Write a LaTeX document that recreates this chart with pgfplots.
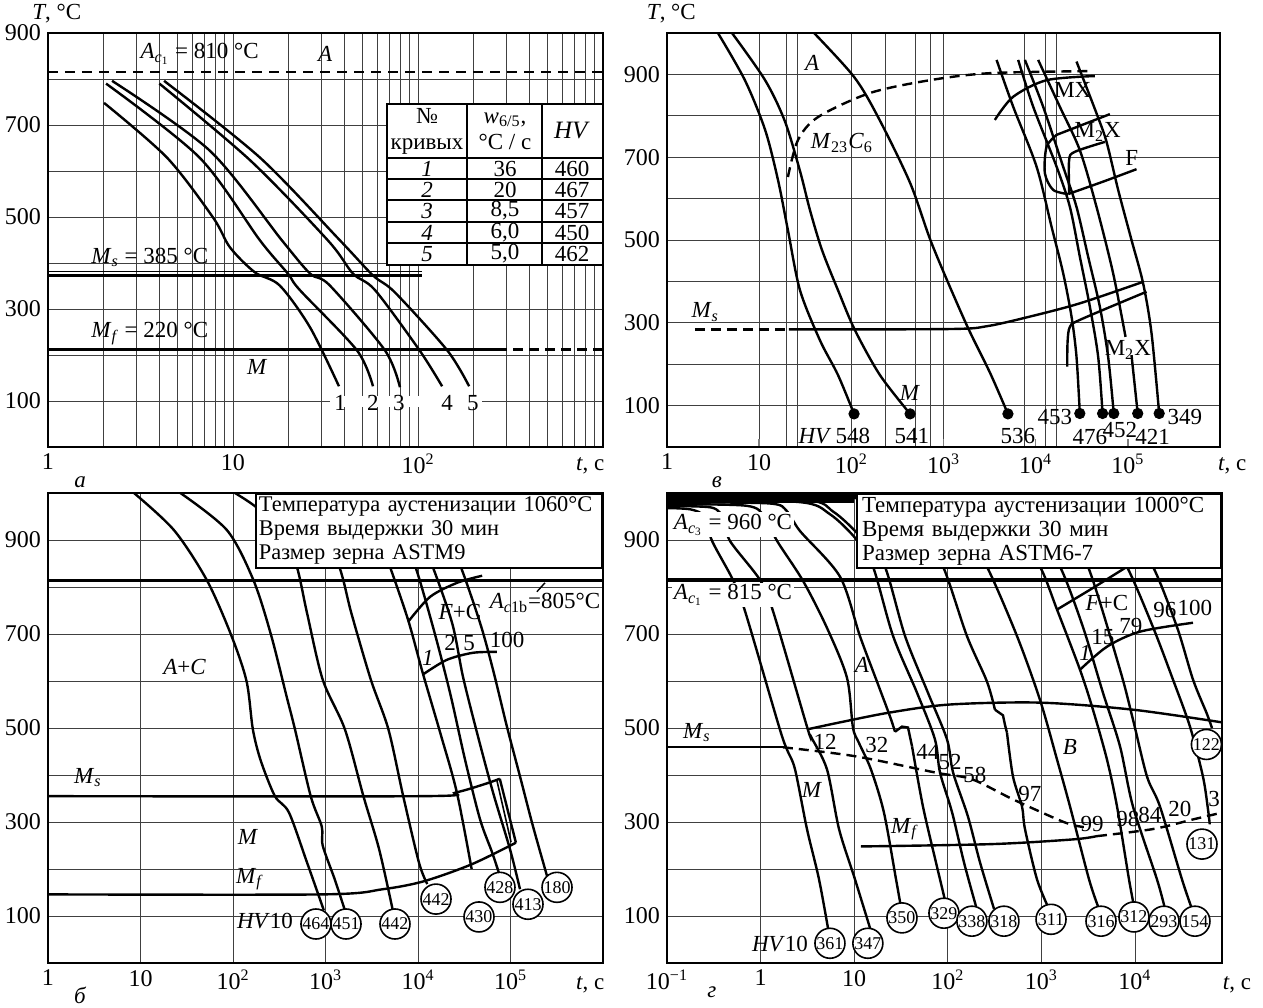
\documentclass[border=0pt]{standalone}
\usepackage{fontspec}
\setmainfont{Liberation Serif}
\usepackage{pgfplots}
\pgfplotsset{compat=1.18}

\newcommand{\sbs}[1]{\textsubscript{#1}}
\newcommand{\Ms}{\textit{M}\sbs{\textit{s}}}
\newcommand{\Mf}{\textit{M}\sbs{\textit{f}}}
\newcommand{\lbl}{\fontsize{11.5}{13}\selectfont}
\newcommand{\tkl}{\fontsize{12}{13}\selectfont}

\tikzset{
  circ/.style={draw, circle, line width=0.8pt, inner sep=0pt, minimum size=15pt, fill=white, font=\fontsize{9}{10}\selectfont},
  dsh/.style={dash pattern=on 5pt off 3pt},
  crv/.style={line width=1.2pt, black},
}

\begin{document}
\begin{tikzpicture}
\useasboundingbox (0,0) rectangle (631.5pt,-503.5pt);

%================ PANEL a =================
\begin{axis}[scale only axis, anchor=north west, at={(24pt,-16.5pt)}, width=277.5pt, height=207pt,
  xmode=log, xmin=1, xmax=1000, ymin=0, ymax=900,
  axis line style={line width=1.1pt},
  grid style={line width=0.45pt, black!75},
  ytick={100,200,300,400,500,600,700,800,900}, yticklabels={100,,300,,500,,700,,900},
  ymajorgrids, ytick style={draw=none}, xtick style={draw=none},
  tick label style={font=\tkl},
  /pgf/number format/assume math mode=true,
  clip mode=individual,
  xtick={1,10,100}, xticklabels={1,10,10\textsuperscript{2}},
  xmajorgrids, xminorgrids,
  minor xtick={2,3,4,5,6,7,8,9,20,30,40,50,60,70,80,90,200,300,400,500,600,700,800,900}]
\addplot[crv, line width=1.3pt, dash pattern=on 5pt off 3.5pt] coordinates {(1,815) (1000,815)};
\addplot[crv, line width=1.3pt] coordinates {(1,373) (105,373)};
\addplot[crv, line width=0.6pt] coordinates {(1,381) (105,381)};
\addplot[crv, line width=1.3pt] coordinates {(1,212) (268,212)};
\addplot[crv, line width=1.3pt, dsh] coordinates {(268,212) (1000,212)};
\addplot[crv, smooth] coordinates {(2.01,748) (4.4,629) (7.8,499) (9.63,434) (13.1,380) (17.9,351) (26.1,260) (37.4,132)};
\addplot[crv, smooth] coordinates {(2.06,790) (6.6,629) (14.0,449) (19.8,377) (23.0,341) (46.8,210) (57.1,132)};
\addplot[crv, smooth] coordinates {(2.22,796) (7.5,644) (18.4,449) (26.1,377) (33.4,351) (66.3,210) (79.9,130)};
\addplot[crv, smooth] coordinates {(4.0,790) (12.4,623) (32.6,449) (44.5,377) (58.6,341) (102,210) (135,132)};
\addplot[crv, smooth] coordinates {(4.24,796) (14,629) (37.9,449) (57.1,373) (75.1,336) (144,210) (189,132)};
\fill[white] (axis cs:33.4,86) rectangle (axis cs:222,110);
\node[font=\lbl] at (axis cs:37.9,96) {1};
\node[font=\lbl] at (axis cs:57.1,96) {2};
\node[font=\lbl] at (axis cs:78.9,96) {3};
\node[font=\lbl] at (axis cs:143.5,96) {4};
\node[font=\lbl] at (axis cs:198,96) {5};
\node[font=\lbl] at (axis cs:6.6,855) {\textit{A}\sbs{\textit{c}\sbs{1}} = 810 °C};
\node[font=\lbl] at (axis cs:31.5,855) {\textit{A}};
\node[font=\lbl] at (axis cs:3.55,412) {\Ms{} = 385 °C};
\node[font=\lbl] at (axis cs:3.55,247) {\Mf{} = 220 °C};
\node[font=\lbl] at (axis cs:13.5,174) {\textit{M}};
\node[font=\lbl, anchor=west] at (axis description cs:-0.041,1.046) {\textit{T}, °C};
\node[font=\lbl] at (axis description cs:0.977,-0.045) {\textit{t}, с};
\node[font=\lbl] at (axis description cs:0.058,-0.085) {\textit{а}};
\end{axis}

%================ PANEL в =================
\begin{axis}[scale only axis, anchor=north west, at={(333.5pt,-16.5pt)}, width=276.5pt, height=207pt,
  xmode=log, xmin=1, xmax=1000000, ymin=0, ymax=1000,
  axis line style={line width=1.1pt},
  grid style={line width=0.45pt, black!75},
  ytick={100,200,300,400,500,600,700,800,900}, yticklabels={100,,300,,500,,700,,900},
  ymajorgrids, ytick style={draw=none},
  tick label style={font=\tkl},
  /pgf/number format/assume math mode=true,
  clip mode=individual,
  xtick={1,10,100,1000,10000,100000},
  xticklabels={1,10,10\textsuperscript{2},10\textsuperscript{3},10\textsuperscript{4},10\textsuperscript{5}},
  minor xtick={10,20,26,100,237,500,727,1000,7600,12900,17000}, xminorgrids,
  xtick pos=bottom, xtick style={line width=0.8pt}, major tick length=4pt, minor tick length=0pt, tick align=inside]
\addplot[crv, smooth] coordinates {(3.57,1000) (7.0,886) (11.6,766) (16.0,645) (20.5,524) (27.7,379) (45.6,258) (71.6,174) (107,80)};
\addplot[crv, smooth] coordinates {(5.07,1000) (11.6,886) (19.0,787) (27.7,667) (35.6,572) (48.0,476) (71.6,379) (109,283) (204,174) (434,80)};
\addplot[crv, smooth] coordinates {(39.4,1000) (107,894) (195,797) (434,638) (750,490) (1740,300) (3200,179) (5000,80)};
\addplot[crv, smooth, dsh] coordinates {(20.5,652) (26.3,741) (43.5,797) (159,855) (712,886) (3200,903) (40700,908)};
\addplot[crv, smooth] coordinates {(3767,935) (5702,822) (10230,677) (14870,532) (19870,420) (24490,315) (27730,218) (30130,81)};
\addplot[crv, smooth] coordinates {(6457,935) (9397,822) (16870,677) (23500,580) (30130,460) (38730,339) (47640,218) (53210,81)};
\addplot[crv, smooth] coordinates {(7640,935) (12050,822) (19870,677) (27730,580) (37070,460) (49660,339) (61100,218) (70400,81)};
\addplot[crv, smooth] coordinates {(10640,935) (18280,822) (30130,717) (45710,580) (69180,420) (94400,266)};
\addplot[crv, smooth] coordinates {(109600,222) (128000,81)};
\addplot[crv, smooth] coordinates {(27730,931) (45710,806) (58750,737) (78520,621) (109600,500) (146600,395) (180700,275) (218800,81)};
\addplot[crv, smooth] coordinates {(23070,613) (23070,693) (26610,713) (56360,737)};
\addplot[crv, smooth] coordinates {(22540,611) (53950,641) (124200,671)};
\addplot[crv, smooth] coordinates {(16870,754) (13120,725) (12590,661) (15490,621) (22540,611)};
\addplot[crv] coordinates {(16870,754) (63830,804)};
\addplot[crv, smooth] coordinates {(3606,790) (5702,846) (13120,886) (43850,896)};
\addplot[crv, dsh] coordinates {(2,284) (21,284)};
\addplot[crv, smooth] coordinates {(21,284) (1200,285) (3000,292) (8650,315) (30130,347) (146600,399)};
\addplot[crv, smooth] coordinates {(21980,194) (22200,255) (23500,290) (30130,307) (159600,375)};
\addplot[only marks, mark=*, mark size=2.6pt, black] coordinates {(107,80) (434,80) (5000,80) (30130,81) (53210,81) (70400,81) (128000,81) (218800,81)};
\node[font=\lbl] at (axis cs:40.3,27) {\textit{HV}};
\node[font=\lbl] at (axis cs:104,27) {548};
\node[font=\lbl] at (axis cs:454,27) {541};
\node[font=\lbl] at (axis cs:6400,27) {536};
\node[font=\lbl] at (axis cs:16150,72) {453};
\node[font=\lbl] at (axis cs:38700,24) {476};
\node[font=\lbl] at (axis cs:81800,41) {452};
\node[font=\lbl] at (axis cs:186000,24) {421};
\node[font=\lbl] at (axis cs:415000,72) {349};
\node[font=\lbl] at (axis cs:432,130) {\textit{M}};
\node[font=\lbl] at (axis cs:37.5,928) {\textit{A}};
\node[font=\lbl] at (axis cs:79,734) {\textit{M}\sbs{23}\textit{C}\sbs{6}};
\node[font=\lbl] at (axis cs:2.6,326) {\Ms};
\node[font=\lbl] at (axis cs:25300,862) {MX};
\node[font=\lbl] at (axis cs:47000,761) {M\sbs{2}X};
\node[font=\lbl] at (axis cs:110000,698) {F};
\node[font=\lbl] at (axis cs:100000,234) {M\sbs{2}X};
\node[font=\lbl, anchor=west] at (axis description cs:-0.049,1.046) {\textit{T}, °C};
\node[font=\lbl] at (axis description cs:1.022,-0.045) {\textit{t}, с};
\node[font=\lbl] at (axis description cs:0.09,-0.085) {\textit{в}};
\end{axis}

%================ PANEL б =================
\begin{axis}[scale only axis, anchor=north west, at={(24pt,-246.5pt)}, width=277.5pt, height=235pt,
  xmode=log, xmin=1, xmax=1000000, ymin=0, ymax=1000,
  axis line style={line width=1.1pt},
  grid style={line width=0.45pt, black!75},
  ytick={100,200,300,400,500,600,700,800,900}, yticklabels={100,,300,,500,,700,,900},
  ymajorgrids, ytick style={draw=none}, xtick style={draw=none},
  tick label style={font=\tkl},
  /pgf/number format/assume math mode=true,
  clip mode=individual,
  xtick={1,10,100,1000,10000,100000},
  xticklabels={1,10,10\textsuperscript{2},10\textsuperscript{3},10\textsuperscript{4},10\textsuperscript{5}},
  xmajorgrids]
\addplot[crv, line width=1.6pt] coordinates {(1,813) (1000000,813)};
\addplot[crv, smooth] coordinates {(8.5,1000) (23,921) (52,815) (95,699) (140,600) (164,497) (200,430) (284,355) (403,320) (631,214) (960,112)};
\addplot[crv, smooth] coordinates {(27,1000) (86,921) (166,815) (257,699) (380,567) (468,497) (692,355) (912,290) (933,250) (1259,178) (1622,112)};
\addplot[crv, smooth] coordinates {(105,1000) (204,960) (363,890) (490,843) (631,745) (933,603) (1622,497) (2570,355) (3800,242) (5370,110)};
\addplot[crv, smooth] coordinates {(776,960) (1410,843) (1900,745) (3090,603) (4790,497) (6920,355) (10230,214) (12590,168)};
\addplot[crv, smooth] coordinates {(3020,960) (4680,858) (7760,732) (11220,618) (17380,490) (26300,363) (38000,200)};
\addplot[crv, smooth] coordinates {(5000,960) (8830,858) (14520,715) (22190,575) (32220,433) (46800,306) (63100,236) (76900,185)};
\addplot[crv, smooth] coordinates {(8000,960) (13490,858) (23330,724) (30650,609) (43450,490) (64700,363) (98800,242) (126700,157)};
\addplot[crv, smooth] coordinates {(15000,960) (27060,858) (46800,724) (64700,624) (91500,503) (126700,397) (175000,291) (254300,178)};
\addplot[crv, smooth] coordinates {(1,355) (11220,355) (25700,363) (51300,380) (76600,392)};
\addplot[crv] coordinates {(76600,392) (114400,256)};
\addplot[crv, line width=0.8pt] coordinates {(70800,391) (101400,257)};
\addplot[crv, smooth] coordinates {(1,146) (933,146) (4170,157) (11610,174) (38000,210) (114400,256)};
\addplot[crv, smooth] coordinates {(7830,726) (13490,779) (26500,809) (49400,824)};
\addplot[crv, smooth] coordinates {(11330,614) (20500,645) (39200,660) (71300,662)};
\addplot[crv, line width=0.7pt] coordinates {(193000,790) (236000,809)};
\node[draw, line width=1pt, fill=white, anchor=north east, align=left, inner xsep=1.5pt, inner ysep=1.5pt, text width=170pt, font=\fontsize{11.2}{12}\selectfont] at (rel axis cs:1,1)
  {\mbox{Температура аустенизации 1060°C}\\Время выдержки 30 мин\\Размер зерна ASTM9};
\node[font=\lbl] at (axis cs:30,630) {\textit{A}+\textit{C}};
\node[font=\lbl] at (axis cs:2.7,395) {\Ms};
\node[font=\lbl] at (axis cs:145,268) {\textit{M}};
\node[font=\lbl] at (axis cs:152,178) {\Mf};
\node[font=\lbl] at (axis cs:222,89) {\textit{HV}10};
\node[font=\lbl] at (axis cs:28400,747) {\textit{F}+C};
\node[font=\lbl] at (axis cs:236000,766) {\textit{A}\sbs{\textit{c}1b}=805°C};
\node[font=\lbl] at (axis cs:12800,650) {\textit{1}};
\node[font=\lbl] at (axis cs:22200,681) {2};
\node[font=\lbl] at (axis cs:35600,681) {5};
\node[font=\lbl] at (axis cs:91700,688) {100};
\node[circ] at (axis cs:789,83) {464};
\node[circ] at (axis cs:1667,83) {451};
\node[circ] at (axis cs:5640,83) {442};
\node[circ] at (axis cs:15660,136) {442};
\node[circ] at (axis cs:45650,98) {430};
\node[circ] at (axis cs:76980,161) {428};
\node[circ] at (axis cs:154600,125) {413};
\node[circ] at (axis cs:318400,161) {180};
\node[font=\lbl] at (axis description cs:0.977,-0.047) {\textit{t}, с};
\node[font=\lbl] at (axis description cs:0.058,-0.068) {\textit{б}};
\end{axis}

%================ PANEL г =================
\begin{axis}[scale only axis, anchor=north west, at={(333.5pt,-246.5pt)}, width=277.5pt, height=235pt,
  xmode=log, xmin=0.1, xmax=85100, ymin=0, ymax=1000,
  axis line style={line width=1.1pt},
  grid style={line width=0.45pt, black!75},
  ytick={100,200,300,400,500,600,700,800,900}, yticklabels={100,,300,,500,,700,,900},
  ymajorgrids, ytick style={draw=none}, xtick style={draw=none},
  tick label style={font=\tkl},
  /pgf/number format/assume math mode=true,
  clip mode=individual,
  xtick={0.1,1,10,100,1000,10000},
  xticklabels={10\textsuperscript{−1},1,10,10\textsuperscript{2},10\textsuperscript{3},10\textsuperscript{4}},
  xmajorgrids]
\addplot[crv, line width=1.6pt] coordinates {(0.1,815) (85100,815)};
\addplot[crv, line width=4pt] coordinates {(0.1,988) (10,988)};
% fast curves
\addplot[crv, smooth] coordinates {(0.1,968) (0.18,965) (0.25,950) (0.303,898) (0.507,815) (0.681,749) (1.574,503) (1.915,454) (2.333,412) (3.13,285) (4.21,178) (5.38,62)};
\addplot[crv, smooth] coordinates {(0.1,972) (0.3,969) (0.4,945) (0.471,898) (0.986,815) (1.356,749) (3.13,503) (3.45,482) (5.12,412) (6.89,285) (10.2,178) (15.1,68)};
\addplot[crv, smooth] coordinates {(0.1,976) (0.7,973) (1.1,950) (1.5,898) (2.84,813) (5.12,713) (8.37,607) (9.7,501) (11.2,469) (15.1,412) (20.8,320) (28,178) (31.6,119)};
% curve to 329 with notch
\addplot[crv, smooth] coordinates {(0.1,980) (1.2,978) (1.9,962) (2.64,919) (7.05,822) (11.5,696) (17.5,599) (24.1,525) (27.3,492)};
\addplot[crv] coordinates {(27.3,492) (32.4,503) (37.6,501) (41.5,461)};
\addplot[crv, smooth] coordinates {(41.5,461) (54.3,333) (74.8,214) (95.7,125)};
% 338, 318
\addplot[crv, smooth] coordinates {(0.1,984) (2.5,981) (5.5,955) (10.7,900) (15.9,843) (26.0,696) (46.9,575) (72.9,476) (82.6,405) (111,321) (149,214) (200,121)};
\addplot[crv, smooth] coordinates {(0.1,988) (3,985) (6,960) (10.7,915) (14,880) (21.3,843) (34.9,696) (61.4,575) (98,476) (114,405) (164,312) (221,214) (312,115)};
% 311 with notch
\addplot[crv, smooth] coordinates {(0.1,991) (9,990) (15,970) (30,920) (60,870) (89,843) (160,696) (262,599) (319,539)};
\addplot[crv] coordinates {(319,539) (389,527) (408,507) (429,490)};
\addplot[crv, smooth] coordinates {(429,490) (497,397) (621,333) (668,285) (898,178) (1205,115)};
% 316, 312, 293, 154, 131, 122
\addplot[crv, smooth] coordinates {(0.1,994) (10,993) (30,975) (100,920) (180,880) (262,843) (548,696) (966,560) (1469,433) (2023,333) (3230,178) (4125,115)};
\addplot[crv, smooth] coordinates {(0.1,995) (10,994) (60,975) (300,920) (600,880) (966,843) (1469,752) (2585,624) (3556,539) (5020,433) (6430,333) (8630,178) (9770,121)};
\addplot[crv, smooth] coordinates {(0.1,996) (10,995) (100,975) (500,920) (1000,880) (1581,843) (2780,715) (4550,575) (6920,461) (9520,333) (17180,178) (20940,115)};
\addplot[crv, smooth] coordinates {(0.1,997) (10,996) (200,975) (1000,920) (2000,880) (3150,843) (6920,624) (9520,518) (13430,397) (18500,333) (31770,178) (40640,115)};
\addplot[crv, smooth] coordinates {(0.1,998) (10,997) (500,975) (3000,920) (5500,880) (8200,843) (15560,715) (25470,603) (38700,503) (53200,397) (60000,330) (63000,295)};
\addplot[crv, smooth] coordinates {(0.1,999) (10,998) (1000,975) (5000,920) (10000,880) (15560,843) (28100,715) (41700,603) (58750,530) (66500,500)};
% Ms, Mf, B, F+C
\addplot[crv] coordinates {(0.1,459) (1.73,459)};
\addplot[crv, smooth, dsh] coordinates {(1.73,459) (10.2,440) (74.8,405) (181,391) (500,348) (1786,299) (2920,289)};
\addplot[crv, smooth] coordinates {(11.8,248) (296,253) (2180,263) (3927,270)};
\addplot[crv, smooth, dsh] coordinates {(3927,270) (15560,285) (42660,306) (85100,320)};
\addplot[crv, smooth] coordinates {(3.13,497) (7.05,512) (24.1,533) (105,550) (966,554) (9520,539) (85100,512)};
\addplot[crv, smooth] coordinates {(1469,752) (3556,798) (8200,843)};
\addplot[crv, smooth] coordinates {(2585,624) (5020,673) (11300,705) (41700,724)};
\node[draw, line width=1pt, fill=white, anchor=north east, align=left, inner xsep=2.5pt, inner ysep=1.5pt, text width=177pt, font=\fontsize{11.5}{12}\selectfont] at (rel axis cs:1,1)
  {\mbox{Температура аустенизации 1000°C}\\Время выдержки 30 мин\\Размер зерна ASTM6-7};
\node[font=\lbl, fill=white, inner sep=1pt] at (axis cs:0.507,932) {\textit{A}\sbs{\textit{c}\sbs{3}} = 960 °C};
\node[font=\lbl, fill=white, inner sep=1pt] at (axis cs:0.507,783) {\textit{A}\sbs{\textit{c}\sbs{1}} = 815 °C};
\node[font=\lbl] at (axis cs:0.209,490) {\Ms};
\node[font=\lbl] at (axis cs:3.54,369) {\textit{M}};
\node[font=\lbl] at (axis cs:34.9,285) {\Mf};
\node[font=\lbl] at (axis cs:12.1,635) {\textit{A}};
\node[font=\lbl] at (axis cs:2023,459) {\textit{B}};
\node[font=\lbl] at (axis cs:4.88,471) {12};
\node[font=\lbl] at (axis cs:17.5,463) {32};
\node[font=\lbl] at (axis cs:61.4,450) {44};
\node[font=\lbl] at (axis cs:106,427) {52};
\node[font=\lbl] at (axis cs:195,401) {58};
\node[font=\lbl] at (axis cs:755,359) {97};
\node[font=\lbl] at (axis cs:3475,295) {99};
\node[font=\lbl] at (axis cs:8410,306) {98};
\node[font=\lbl] at (axis cs:14450,316) {84};
\node[font=\lbl] at (axis cs:30270,327) {20};
\node[font=\lbl] at (axis cs:70000,348) {3};
\node[font=\lbl] at (axis cs:5020,766) {\textit{F}+C};
\node[font=\lbl] at (axis cs:2925,660) {\textit{1}};
\node[font=\lbl] at (axis cs:4550,694) {15};
\node[font=\lbl] at (axis cs:9060,718) {79};
\node[font=\lbl] at (axis cs:20900,752) {96};
\node[font=\lbl] at (axis cs:43650,756) {100};
\node[font=\lbl] at (axis cs:1.61,40) {\textit{HV}10};
\node[circ] at (axis cs:5.51,42) {361};
\node[circ] at (axis cs:14.0,42) {347};
\node[circ] at (axis cs:32.4,96) {350};
\node[circ] at (axis cs:91,106) {329};
\node[circ] at (axis cs:181,89) {338};
\node[circ] at (axis cs:398,89) {318};
\node[circ] at (axis cs:1268,93) {311};
\node[circ] at (axis cs:4335,89) {316};
\node[circ] at (axis cs:9750,98) {312};
\node[circ] at (axis cs:20420,89) {293};
\node[circ] at (axis cs:43750,89) {154};
\node[circ] at (axis cs:58000,465) {122};
\node[circ] at (axis cs:52000,253) {131};
\node[font=\lbl] at (axis description cs:1.027,-0.047) {\textit{t}, с};
\node[font=\lbl] at (axis description cs:0.081,-0.062) {\textit{г}};
\end{axis}

%================ TABLE in panel a =================
\begin{scope}[x=0.5pt,y=-0.5pt]
\fill[white] (387,104) rectangle (603,265);
\draw[line width=0.9pt] (387,104) rectangle (603,265);
\foreach \yy in {158,179,200,222,243} {\draw[line width=0.9pt] (387,\yy) -- (603,\yy);}
\draw[line width=0.9pt] (467,104) -- (467,265) (542,104) -- (542,265);
\node[align=center, font=\fontsize{11.5}{13}\selectfont] at (427,131) {№\\кривых};
\node[align=center, font=\fontsize{11.5}{13}\selectfont] at (505,131) {\textit{w}\sbs{6/5},\\°C / с};
\node[font=\fontsize{12.5}{14}\selectfont] at (572,131) {\textit{HV}};
\node[font=\lbl] at (427,168.5) {\textit{1}}; \node[font=\lbl] at (505,168.5) {36}; \node[font=\lbl] at (572,168.5) {460};
\node[font=\lbl] at (427,189.5) {\textit{2}}; \node[font=\lbl] at (505,189.5) {20}; \node[font=\lbl] at (572,189.5) {467};
\node[font=\lbl] at (427,211) {\textit{3}}; \node[font=\lbl] at (505,211) {8,5}; \node[font=\lbl] at (572,211) {457};
\node[font=\lbl] at (427,232.5) {\textit{4}}; \node[font=\lbl] at (505,232.5) {6,0}; \node[font=\lbl] at (572,232.5) {450};
\node[font=\lbl] at (427,254) {\textit{5}}; \node[font=\lbl] at (505,254) {5,0}; \node[font=\lbl] at (572,254) {462};
\end{scope}
\end{tikzpicture}
\end{document}
